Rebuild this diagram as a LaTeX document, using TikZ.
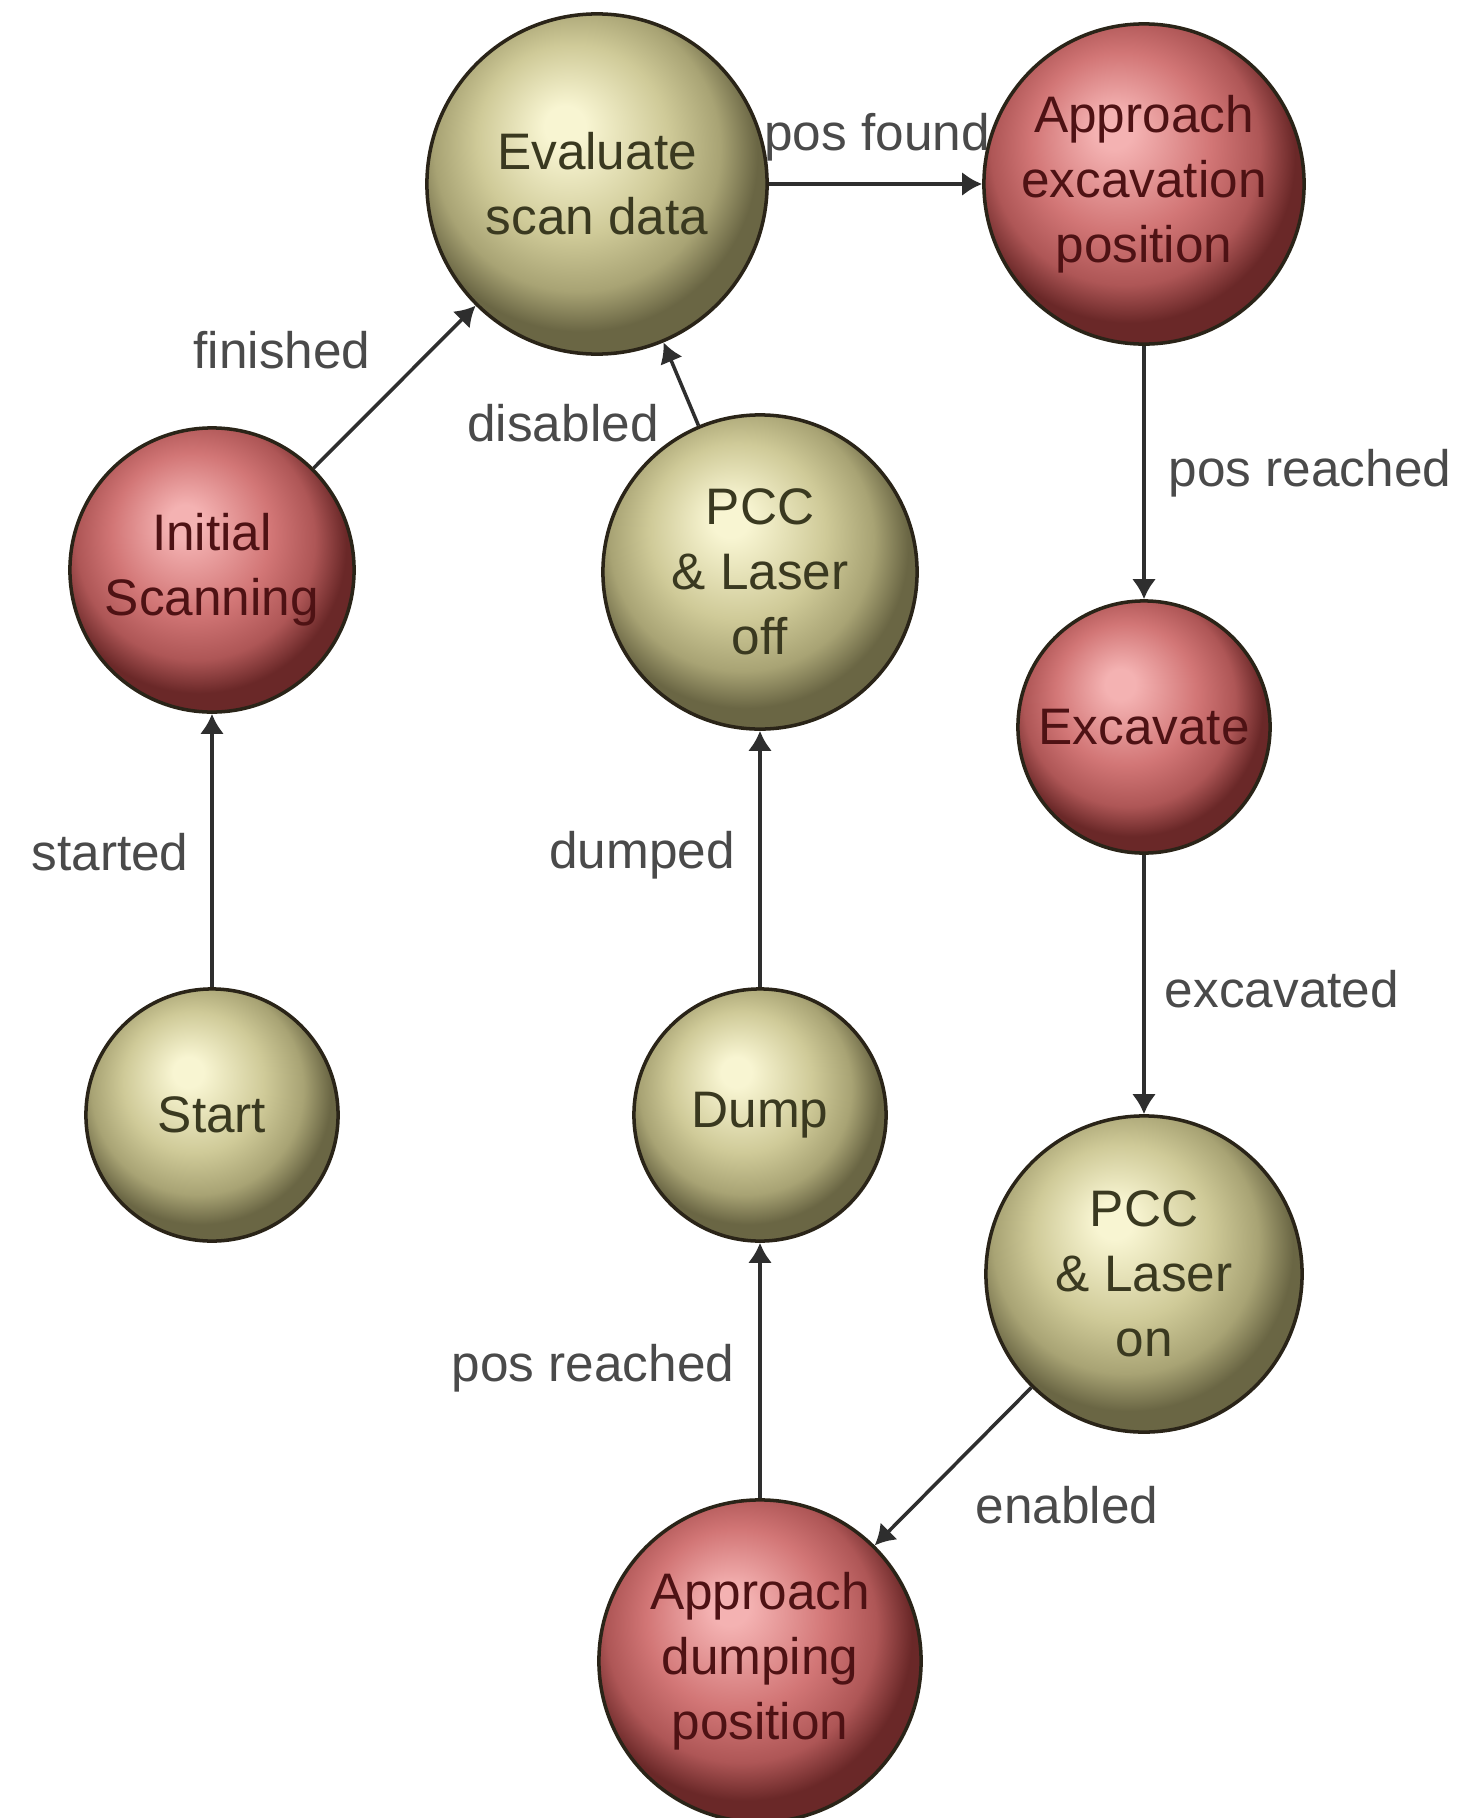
\documentclass[tikz,border=0pt]{standalone}
\usepackage{fontspec}
\setmainfont{Liberation Sans}
\usetikzlibrary{arrows.meta}

% ball colours
\definecolor{yhigh}{HTML}{F8F5D2}
\definecolor{ymid}{HTML}{CFCA98}
\definecolor{ylow}{HTML}{A8A374}
\definecolor{ydark}{HTML}{6A6644}
\definecolor{rhigh}{HTML}{F4B2B2}
\definecolor{rmid}{HTML}{D27676}
\definecolor{rlow}{HTML}{AE5656}
\definecolor{rdark}{HTML}{6A2828}
\definecolor{ytext}{HTML}{3A3920}
\definecolor{rtext}{HTML}{4E1214}
\definecolor{lbltext}{HTML}{4A4A4A}
\definecolor{rim}{HTML}{2A2418}
\definecolor{edgecol}{HTML}{2E2E2E}

\pgfdeclareradialshading{yellowball}{\pgfqpoint{-5bp}{9bp}}{%
  color(0bp)=(yhigh); color(3bp)=(yhigh); color(14bp)=(ymid);
  color(21bp)=(ylow); color(26bp)=(ydark); color(50bp)=(ydark)}
\pgfdeclareradialshading{redball}{\pgfqpoint{-5bp}{9bp}}{%
  color(0bp)=(rhigh); color(3bp)=(rhigh); color(14bp)=(rmid);
  color(21bp)=(rlow); color(26bp)=(rdark); color(50bp)=(rdark)}

\tikzset{
  ballnode/.style={circle, draw=rim, line width=1pt, inner sep=0pt, align=center,
    font=\fontsize{14.6}{18.5}\selectfont},
  ystate/.style={ballnode, shade, shading=yellowball, text=ytext},
  rstate/.style={ballnode, shade, shading=redball, text=rtext},
  trans/.style={-{Latex[length=2mm,width=2.4mm]}, draw=edgecol, line width=1pt},
  lbl/.style={text=lbltext, inner sep=0pt, font=\fontsize{14.6}{18.5}\selectfont}
}

\begin{document}
\begin{tikzpicture}[x=0.01cm, y=-0.01cm]
  \fill[white] (0,0) rectangle (1458,1818);
  \useasboundingbox (0,0) rectangle (1458,1818);
  \clip (0,0) rectangle (1458,1818);

  % states
  \node[ystate, minimum size=3.4cm]  (eval)     at (597,184)  {Evaluate\\scan data};
  \node[rstate, minimum size=3.2cm]  (apprexc)  at (1144,184) {Approach\\excavation\\position};
  \node[rstate, minimum size=2.84cm] (init)     at (212,570)  {Initial\\Scanning};
  \node[ystate, minimum size=3.14cm] (pccoff)   at (760,572)  {PCC\\\& Laser\\off};
  \node[rstate, minimum size=2.52cm] (excav)    at (1144,727) {Excavate};
  \node[ystate, minimum size=2.52cm] (start)    at (212,1115) {Start};
  \node[ystate, minimum size=2.52cm] (dump)     at (760,1115) {Dump};
  \node[ystate, minimum size=3.16cm] (pccon)    at (1144,1274) {PCC\\\& Laser\\on};
  \node[rstate, minimum size=3.22cm] (apprdump) at (760,1661) {Approach\\dumping\\position};

  % transitions
  \draw[trans] (start) -- (init);
  \draw[trans] (init) -- (eval);
  \draw[trans] (pccoff) -- (eval);
  \draw[trans] (eval) -- (apprexc);
  \draw[trans] (apprexc) -- (excav);
  \draw[trans] (excav) -- (pccon);
  \draw[trans] (pccon) -- (apprdump);
  \draw[trans] (apprdump) -- (dump);
  \draw[trans] (dump) -- (pccoff);

  % transition labels
  \node[lbl] (lstarted)  at (110,852)  {started};
  \node[lbl] (lfinished) at (282,350)  {finished};
  \node[lbl] (ldisabled) at (563,423)  {disabled};
  \node[lbl] (lposfound) at (877,137)  {pos found};
  \node[lbl] (lposexc)   at (1310,473) {pos reached};
  \node[lbl] (lexcav)    at (1282,989) {excavated};
  \node[lbl] (lenabled)  at (1067,1505) {enabled};
  \node[lbl] (lposdump)  at (593,1368) {pos reached};
  \node[lbl] (ldumped)   at (642,855)  {dumped};
\end{tikzpicture}
\end{document}
